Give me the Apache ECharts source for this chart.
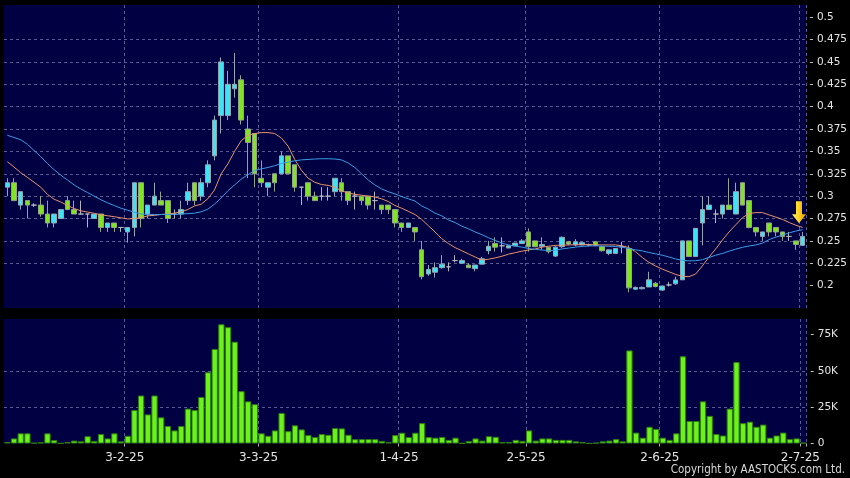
<!DOCTYPE html>
<html><head><meta charset="utf-8">
<script src="https://cdn.jsdelivr.net/npm/echarts@6/dist/echarts.min.js"></script>
<style>html,body{margin:0;padding:0;background:#000;}#c{width:850px;height:478px;}</style>
</head><body><div id="c"></div>
<script>
const dates = [
'3-1-25','6-1-25','7-1-25','8-1-25','9-1-25','10-1-25','13-1-25','14-1-25','15-1-25','16-1-25','17-1-25','20-1-25','21-1-25','22-1-25','23-1-25','24-1-25','27-1-25','28-1-25',
'3-2-25','4-2-25','5-2-25','6-2-25','7-2-25','10-2-25','11-2-25','12-2-25','13-2-25','14-2-25','17-2-25','18-2-25','19-2-25','20-2-25','21-2-25','24-2-25','25-2-25','26-2-25','27-2-25','28-2-25',
'3-3-25','4-3-25','5-3-25','6-3-25','7-3-25','10-3-25','11-3-25','12-3-25','13-3-25','14-3-25','17-3-25','18-3-25','19-3-25','20-3-25','21-3-25','24-3-25','25-3-25','26-3-25','27-3-25','28-3-25','31-3-25',
'1-4-25','2-4-25','3-4-25','7-4-25','8-4-25','9-4-25','10-4-25','11-4-25','14-4-25','15-4-25','16-4-25','17-4-25','22-4-25','23-4-25','24-4-25','25-4-25','28-4-25','29-4-25','30-4-25',
'2-5-25','6-5-25','7-5-25','8-5-25','9-5-25','12-5-25','13-5-25','14-5-25','15-5-25','16-5-25','19-5-25','20-5-25','21-5-25','22-5-25','23-5-25','26-5-25','27-5-25','28-5-25','29-5-25','30-5-25',
'2-6-25','3-6-25','4-6-25','5-6-25','6-6-25','9-6-25','10-6-25','11-6-25','12-6-25','13-6-25','16-6-25','17-6-25','18-6-25','19-6-25','20-6-25','23-6-25','24-6-25','25-6-25','26-6-25','27-6-25','30-6-25',
'2-7-25'];

const opens = [0.31,0.315,0.29,0.295,0.29,0.29,0.28,0.27,0.275,0.295,0.285,0.28,0.28,0.275,0.28,0.265,0.27,0.265,0.26,0.265,
0.315,0.28,0.29,0.295,0.295,0.28,0.28,0.295,0.315,0.30,0.315,0.345,0.39,0.39,0.42,0.43,0.375,0.37,0.32,0.31,
0.325,0.325,0.345,0.335,0.31,0.315,0.30,0.30,0.30,0.305,0.315,0.305,0.30,0.30,0.30,0.295,0.29,0.29,0.285,0.27,
0.265,0.265,0.24,0.213,0.215,0.22,0.221,0.228,0.225,0.223,0.219,0.224,0.239,0.247,0.2445,0.242,0.2445,0.247,0.26,0.25,
0.244,0.243,0.233,0.2435,0.249,0.2455,0.2455,0.2455,0.249,0.2435,0.236,0.236,0.2435,0.2415,0.196,0.1965,0.1985,0.2027,0.195,0.2008,
0.202,0.2065,0.25,0.2325,0.27,0.285,0.28,0.28,0.29,0.28,0.315,0.295,0.265,0.255,0.27,0.265,0.26,0.255,0.25,0.245];
const closes = [0.315,0.295,0.305,0.29,0.29,0.28,0.27,0.28,0.285,0.285,0.28,0.28,0.28,0.28,0.265,0.27,0.265,0.265,0.265,0.315,
0.275,0.29,0.30,0.29,0.275,0.28,0.285,0.305,0.295,0.315,0.335,0.385,0.45,0.425,0.425,0.385,0.36,0.325,0.315,0.315,
0.315,0.345,0.325,0.31,0.31,0.30,0.295,0.30,0.30,0.32,0.305,0.295,0.30,0.295,0.29,0.295,0.285,0.285,0.27,0.265,
0.27,0.26,0.21,0.218,0.22,0.224,0.221,0.228,0.228,0.22,0.223,0.23,0.244,0.243,0.2445,0.2445,0.2475,0.25,0.2435,0.2435,
0.246,0.238,0.243,0.254,0.2465,0.249,0.248,0.2455,0.2447,0.239,0.24,0.2415,0.2435,0.1975,0.198,0.198,0.2065,0.199,0.1995,0.2008,
0.2064,0.25,0.2325,0.264,0.285,0.29,0.28,0.29,0.285,0.305,0.29,0.265,0.26,0.26,0.26,0.26,0.255,0.255,0.246,0.255];
const lows = [0.30,0.295,0.285,0.275,0.288,0.277,0.265,0.265,0.275,0.285,0.28,0.28,0.265,0.275,0.26,0.26,0.26,0.26,0.248,0.255,
0.265,0.275,0.29,0.29,0.27,0.275,0.275,0.29,0.29,0.295,0.31,0.34,0.37,0.385,0.41,0.38,0.32,0.31,0.31,0.30,
0.305,0.325,0.325,0.305,0.29,0.295,0.295,0.295,0.295,0.30,0.295,0.29,0.285,0.29,0.285,0.285,0.28,0.28,0.265,0.26,
0.265,0.25,0.207,0.211,0.209,0.219,0.216,0.226,0.225,0.22,0.216,0.224,0.235,0.238,0.237,0.242,0.244,0.247,0.238,0.243,
0.24,0.236,0.232,0.242,0.245,0.244,0.245,0.244,0.244,0.238,0.234,0.236,0.236,0.1925,0.195,0.196,0.1985,0.198,0.194,0.199,
0.201,0.2065,0.232,0.232,0.245,0.285,0.27,0.275,0.285,0.28,0.29,0.264,0.255,0.25,0.255,0.255,0.25,0.25,0.24,0.245];
const highs = [0.32,0.32,0.305,0.295,0.292,0.30,0.295,0.28,0.285,0.30,0.295,0.295,0.28,0.28,0.28,0.27,0.27,0.265,0.265,0.315,
0.315,0.29,0.315,0.305,0.295,0.285,0.295,0.315,0.315,0.32,0.34,0.39,0.455,0.44,0.46,0.435,0.39,0.37,0.34,0.315,
0.325,0.35,0.345,0.335,0.31,0.315,0.305,0.31,0.31,0.32,0.32,0.305,0.305,0.30,0.30,0.305,0.29,0.29,0.285,0.27,
0.27,0.265,0.25,0.223,0.226,0.234,0.226,0.234,0.23,0.225,0.223,0.232,0.25,0.254,0.254,0.245,0.248,0.252,0.264,0.25,
0.254,0.243,0.244,0.255,0.25,0.252,0.249,0.247,0.25,0.244,0.24,0.242,0.249,0.245,0.199,0.199,0.2155,0.204,0.20,0.204,
0.21,0.25,0.25,0.264,0.30,0.30,0.285,0.29,0.32,0.315,0.315,0.295,0.265,0.26,0.27,0.265,0.26,0.26,0.25,0.26];

const volumes = [1000,3500,7000,7000,500,800,7000,2300,200,1000,2000,1500,5000,1800,6500,3500,7000,1500,5300,23000,
33000,20000,33000,18000,12000,9000,12000,24000,23000,32000,49000,65000,82000,80000,70000,36000,29000,27000,7000,5300,
9000,21000,8500,12500,9700,5800,4400,6500,6000,10600,10400,6000,3000,3000,3000,3000,1800,900,5800,7400,
4400,7400,14000,4400,4000,4500,2500,4000,200,1700,3500,2000,5000,4600,1000,1000,2500,1800,9000,2000,
3500,3500,2500,2500,2500,1500,1000,100,500,1500,2000,3000,1500,64000,7500,4000,11500,10000,4000,2500,
7000,60000,15500,15500,29000,19000,6500,5500,24000,56000,14000,15000,11500,13000,4000,5500,7500,3000,3500,500];

const maShort = [0.3385,0.3325,0.3262,0.321,0.3155,0.31,0.302,0.2965,0.2935,0.2895,0.2862,0.2836,0.2822,0.2808,0.2792,0.2781,0.277,0.2758,0.2745,0.275,
0.276,0.278,0.2785,0.2795,0.28,0.281,0.2825,0.285,0.289,0.291,0.297,0.307,0.325,0.336,0.35,0.362,0.368,0.37,0.371,0.371,
0.37,0.365,0.356,0.341,0.329,0.32,0.3155,0.313,0.312,0.31,0.306,0.3035,0.302,0.301,0.30,0.299,0.297,0.294,0.2895,0.2865,
0.283,0.2795,0.274,0.267,0.26,0.2525,0.247,0.2425,0.239,0.2355,0.232,0.2285,0.2295,0.231,0.2328,0.2352,0.2368,0.2385,0.2399,0.241,
0.243,0.244,0.245,0.2452,0.2455,0.2457,0.2458,0.2458,0.2456,0.2455,0.2455,0.2455,0.2445,0.2425,0.238,0.2315,0.226,0.222,0.2185,0.2155,
0.2125,0.2105,0.21,0.213,0.222,0.232,0.241,0.251,0.26,0.268,0.276,0.2805,0.2816,0.2816,0.279,0.2765,0.274,0.2705,0.2675,0.265];
const maLong = [0.368,0.3655,0.363,0.358,0.351,0.344,0.3365,0.3295,0.3235,0.318,0.3125,0.308,0.304,0.30,0.296,0.2925,0.2895,0.2865,0.2843,0.282,
0.28,0.2795,0.2795,0.2795,0.2795,0.2795,0.28,0.2805,0.281,0.2825,0.2855,0.291,0.298,0.306,0.3125,0.319,0.324,0.3285,0.3305,0.332,
0.334,0.3365,0.338,0.3395,0.3405,0.341,0.3415,0.3418,0.3418,0.3415,0.3405,0.337,0.332,0.325,0.318,0.3125,0.308,0.305,0.3025,0.2995,
0.297,0.2945,0.289,0.2855,0.281,0.278,0.2735,0.2705,0.2665,0.2635,0.26,0.257,0.2535,0.2505,0.2475,0.2455,0.2442,0.243,0.2415,0.2405,
0.2398,0.2392,0.2395,0.241,0.242,0.243,0.2438,0.2443,0.2445,0.2442,0.244,0.2437,0.243,0.2415,0.24,0.2388,0.237,0.2355,0.234,0.232,
0.2298,0.2283,0.2277,0.2278,0.229,0.2315,0.234,0.236,0.2385,0.2408,0.2428,0.2443,0.2455,0.2475,0.2515,0.2542,0.2565,0.259,0.261,0.2625];

const dateTickLabels = ['3-2-25','3-3-25','1-4-25','2-5-25','2-6-25','2-7-25'];
const priceTickValues = [0.2,0.225,0.25,0.275,0.3,0.325,0.35,0.375,0.4,0.425,0.45,0.475,0.5];
const priceTickLabels = ['0.2','0.225','0.25','0.275','0.3','0.325','0.35','0.375','0.4','0.425','0.45','0.475','0.5'];
const volumeTickValues = [0,25000,50000,75000];
const volumeTickLabels = ['0','25K','50K','75K'];
const arrowPrice = 0.282;

const labelIdx = dateTickLabels.map(l => dates.indexOf(l));
const isLabelIdx = (i) => labelIdx.indexOf(i) >= 0;
const gridColor = '#5a5a92';
const textColor = '#e4e4e4';
const FONT = 'DejaVu Sans';

function lookup(values, labels, v) {
  for (let k = 0; k < values.length; k++) {
    if (Math.abs(values[k] - v) < 1e-6 * Math.max(1, Math.abs(values[k]))) return labels[k];
  }
  return '';
}

const candleData = dates.map((d, i) => [opens[i], closes[i], lows[i], highs[i]]);

const chart = echarts.init(document.getElementById('c'), null, {renderer: 'canvas'});
chart.setOption({
  animation: false,
  backgroundColor: '#000000',
  grid: [
    {left: 4, right: 43.3, top: 5, height: 303, show: true, backgroundColor: '#000042', borderWidth: 0},
    {left: 4, right: 43.3, top: 319, height: 124.5, show: true, backgroundColor: '#000042', borderWidth: 0}
  ],
  xAxis: [
    {type: 'category', gridIndex: 0, data: dates, boundaryGap: true,
     axisLine: {show: false}, axisTick: {show: false}, axisLabel: {show: false},
     splitLine: {show: true, interval: (i) => isLabelIdx(i), lineStyle: {color: gridColor, type: [3, 3], width: 1}}},
    {type: 'category', gridIndex: 1, data: dates, boundaryGap: true, offset: 3,
     axisLine: {show: false},
     axisTick: {show: true, interval: (i) => isLabelIdx(i), length: 3, lineStyle: {color: '#b0b0b0'}},
     axisLabel: {show: true, interval: (i) => isLabelIdx(i), color: textColor, fontSize: 12, fontFamily: FONT, margin: 5, padding: [0, 6, 0, 0]},
     splitLine: {show: true, interval: (i) => isLabelIdx(i), lineStyle: {color: gridColor, type: [3, 3], width: 1}}}
  ],
  yAxis: [
    {type: 'value', gridIndex: 0, position: 'right', min: 0.175, max: 0.5136, interval: 0.025, offset: 4,
     axisLine: {show: false},
     axisTick: {show: true, length: 3, customValues: priceTickValues, lineStyle: {color: '#c0c0c0'}},
     axisLabel: {color: textColor, fontSize: 10.5, fontFamily: FONT, margin: 7, customValues: priceTickValues,
                 formatter: (v) => lookup(priceTickValues, priceTickLabels, v)},
     splitLine: {show: true, showMinLine: false, showMaxLine: false, lineStyle: {color: gridColor, type: [3, 3], width: 1}}},
    {type: 'value', gridIndex: 1, position: 'right', min: 0, max: 85600, interval: 25000, offset: 4,
     axisLine: {show: false},
     axisTick: {show: true, length: 3, customValues: volumeTickValues, lineStyle: {color: '#c0c0c0'}},
     axisLabel: {color: textColor, fontSize: 10.5, fontFamily: FONT, margin: 7, customValues: volumeTickValues,
                 formatter: (v) => lookup(volumeTickValues, volumeTickLabels, v)},
     splitLine: {show: true, showMinLine: false, showMaxLine: false, lineStyle: {color: gridColor, type: [3, 3], width: 1}}}
  ],
  series: [
    {type: 'candlestick', xAxisIndex: 0, yAxisIndex: 0, data: candleData, barWidth: '76%',
     itemStyle: {color: '#3fe4f2', color0: '#80e41e', borderColor: '#93a6b2', borderColor0: '#92a48a', borderColorDoji: '#b4b4bc', borderWidth: 1},
     markPoint: {
       silent: true,
       label: {show: false},
       data: [{
         coord: [dates[dates.length - 1], arrowPrice],
         symbol: 'path://M4,0 L10,0 L10,13 L14,13 L7,22 L0,13 L4,13 Z',
         symbolSize: [14, 22], symbolOffset: [-3.6, 0],
         itemStyle: {color: new echarts.graphic.LinearGradient(0, 0, 1, 0, [
           {offset: 0, color: '#fff26a'}, {offset: 0.5, color: '#ffd21e'}, {offset: 1, color: '#e59a00'}])}
       }]
     }},
    {type: 'line', xAxisIndex: 0, yAxisIndex: 0, data: maShort, symbol: 'none', smooth: false, z: 3,
     lineStyle: {color: '#e8946c', width: 1}},
    {type: 'line', xAxisIndex: 0, yAxisIndex: 0, data: maLong, symbol: 'none', smooth: false, z: 3,
     lineStyle: {color: '#3c9ce4', width: 1}},
    {type: 'bar', xAxisIndex: 1, yAxisIndex: 1, data: volumes, barCategoryGap: '6%',
     itemStyle: {color: '#6cf21a', borderColor: '#2f7d0f', borderWidth: 1}}
  ],
  graphic: [
    {type: 'text', right: 5, top: 464, silent: true,
     style: {text: 'Copyright by AASTOCKS.com Ltd.', fill: '#d8d8d8', font: "11.5px 'DejaVu Sans Condensed', 'Liberation Sans Narrow', 'DejaVu Sans'"}}
  ]
});
</script>
</body></html>
